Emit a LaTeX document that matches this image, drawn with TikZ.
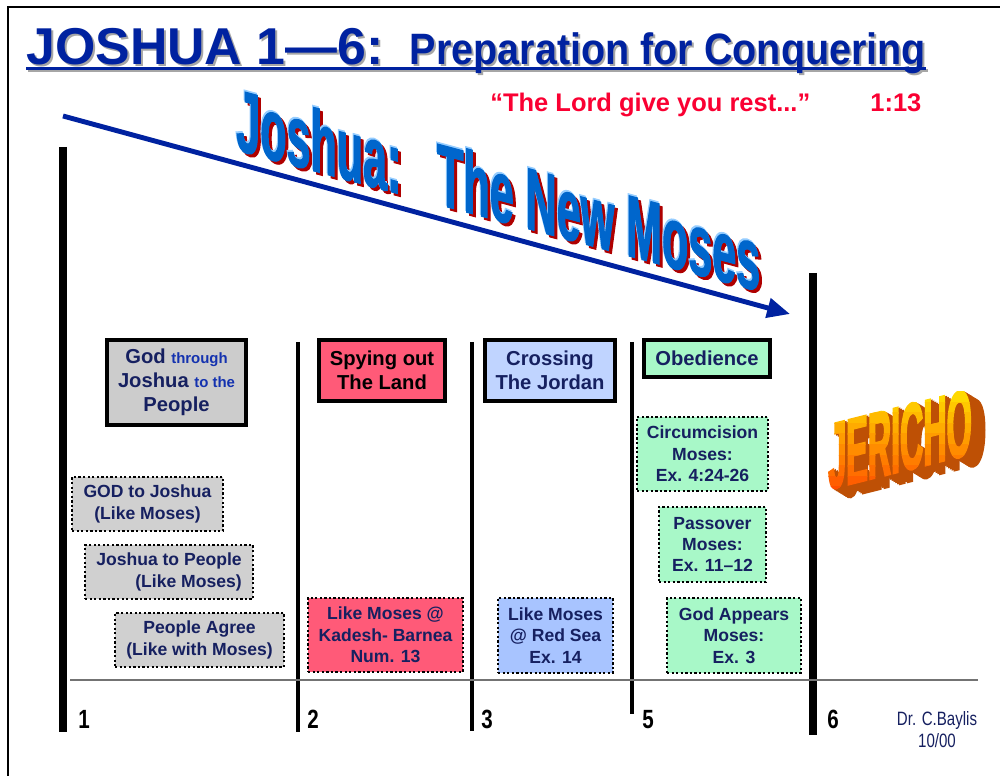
\documentclass[tikz,border=0pt]{standalone}
\usepackage{fontspec}
\setmainfont{Liberation Sans}
\newfontfamily\subfont[FakeStretch=0.9]{Liberation Sans}
\newfontfamily\narrowfont[FakeStretch=0.78]{Liberation Sans}
\newfontfamily\wordfont[FakeStretch=0.49,FakeBold=1.2]{Liberation Sans}
\newfontfamily\jerfont[FakeStretch=0.34,FakeBold=1.5]{Liberation Sans}
\usetikzlibrary{arrows.meta}
\definecolor{titleblue}{RGB}{0,34,160}
\definecolor{navy}{RGB}{22,32,96}
\definecolor{midblue}{RGB}{20,50,175}
\definecolor{quotered}{RGB}{250,0,50}
\definecolor{boxgray}{RGB}{204,204,204}
\definecolor{dotgray}{RGB}{208,208,208}
\definecolor{boxred}{RGB}{255,90,120}
\definecolor{boxblue}{RGB}{192,212,255}
\definecolor{seablue}{RGB}{168,196,255}
\definecolor{boxgreen}{RGB}{168,248,200}
\definecolor{wordblue}{RGB}{0,102,204}
\definecolor{wordedge}{RGB}{150,205,255}
\definecolor{wordred}{RGB}{175,0,0}
\definecolor{jerside}{RGB}{190,80,5}
\def\titletext{\bfseries{\fontsize{29.5}{30}\selectfont JOSHUA 1---6:}\hspace{15pt}{\subfont\fontsize{25}{26}\selectfont Preparation for Conquering}}
\def\themetext{\wordfont\bfseries\fontsize{50}{50}\selectfont Joshua:\ \ \ The New Moses}

\begin{document}
\begin{tikzpicture}[x=0.02cm,y=-0.02cm,
  hdbox/.style={draw=black,line width=2pt,align=center,inner sep=0pt,font=\bfseries\fontsize{11.5}{13.7}\selectfont},
  dotbox/.style={draw=black,line width=1.3pt,dash pattern=on 1.3pt off 1.3pt,align=center,inner sep=0pt,text=navy,font=\bfseries\fontsize{10}{12.2}\selectfont},
  bar/.style={line width=2.8pt},
  numlbl/.style={anchor=base west,inner sep=0pt,font=\narrowfont\bfseries\fontsize{15}{15}\selectfont},
  theme/.style={anchor=base west,inner sep=0pt,yslant=-0.27,transform shape},
  jer/.style={anchor=base west,inner sep=0pt,yslant=0.25,transform shape,font=\jerfont\bfseries\fontsize{54}{54}\selectfont}]
\useasboundingbox (0,0) rectangle (1000,776);
%%%%% START %%%%%
% frame
\draw[line width=1.2pt] (8,776) -- (8,7) -- (1000,7);

% title
\node[anchor=base west,inner sep=0pt,text=black!35] (titleShadow) at (28,67) {\titletext};
\draw[black!35,line width=1.6pt] ([yshift=-2.2pt]titleShadow.base west) -- ([yshift=-2.2pt]titleShadow.base east);
\node[anchor=base west,inner sep=0pt,text=titleblue] (title) at (26,65) {\titletext};
\draw[titleblue,line width=1.6pt] ([yshift=-2.2pt]title.base west) -- ([yshift=-2.2pt]title.base east);

\node[anchor=base west,inner sep=0pt,text=quotered,font=\bfseries\fontsize{14.5}{15}\selectfont] (quote) at (490,112) {``The Lord give you rest...''};
\node[anchor=base west,inner sep=0pt,text=quotered,font=\bfseries\fontsize{14.5}{15}\selectfont] (verse) at (870,112) {1:13};

% arrow and word art
\coordinate (arrS) at (63,116);
\coordinate (arrE) at (790,314);
\draw[titleblue,line width=2.8pt,-{Triangle[length=13pt,width=11pt]}] (arrS) -- (arrE);

\node[theme,text=wordred] (themeShadow) at (239,153) {\themetext};
\node[theme,text=wordedge] (themeEdge) at (235,148) {\themetext};
\node[theme,text=wordblue] (theme) at (236,150) {\themetext};

% bars
\draw[line width=4pt] (63,147) -- (63,732);
\draw[bar] (298,342) -- (298,732);
\draw[bar] (472,342) -- (472,731);
\draw[bar] (632,342) -- (632,714);
\draw[line width=4pt] (813,273) -- (813,735);
\draw[black!55,line width=0.9pt] (70,680) -- (978,680);

% headers
\node[hdbox,fill=boxgray,text=navy,minimum width=2.78cm,minimum height=1.7cm] (hdGod) at (176.5,382.5)
  {God {\color{midblue}\fontsize{8.5}{10}\selectfont through}\\Joshua {\color{midblue}\fontsize{8.5}{10}\selectfont to the}\\People};
\node[hdbox,fill=boxred,text=black,minimum width=2.52cm,minimum height=1.22cm] (hdSpy) at (382,370.5) {Spying out\\The Land};
\node[hdbox,fill=boxblue,text=navy,minimum width=2.6cm,minimum height=1.22cm] (hdCross) at (550,370.5) {Crossing\\The Jordan};
\node[hdbox,fill=boxgreen,text=navy,minimum width=2.52cm,minimum height=0.74cm] (hdObey) at (707,358.5) {Obedience};

% column 1
\node[dotbox,fill=dotgray,minimum width=3.02cm,minimum height=1.08cm] (bxGodJos) at (147.5,504) {GOD to Joshua\\(Like Moses)};
\node[dotbox,fill=dotgray,minimum width=3.36cm,minimum height=1.08cm,align=right] (bxJosPeo) at (169,572) {Joshua to People\\(Like Moses)\hspace{5pt}};
\node[dotbox,fill=dotgray,minimum width=3.38cm,minimum height=1.08cm] (bxAgree) at (199.5,640) {People Agree\\(Like with Moses)};

% columns 2 and 3
\node[dotbox,fill=boxred,minimum width=3.1cm,minimum height=1.48cm] (bxKadesh) at (385.5,635) {Like Moses @\\Kadesh- Barnea\\Num. 13};
\node[dotbox,fill=seablue,minimum width=2.3cm,minimum height=1.5cm] (bxRedSea) at (555.5,635.5) {Like Moses\\@ Red Sea\\Ex. 14};

% column 5
\node[dotbox,fill=boxgreen,minimum width=2.62cm,minimum height=1.48cm] (bxCirc) at (702.5,454) {Circumcision\\Moses:\\Ex. 4:24-26};
\node[dotbox,fill=boxgreen,minimum width=2.14cm,minimum height=1.5cm] (bxPass) at (712.5,544.5) {Passover\\Moses:\\Ex. 11--12};
\node[dotbox,fill=boxgreen,minimum width=2.68cm,minimum height=1.5cm] (bxAppear) at (734,635.5) {God Appears\\Moses:\\Ex. 3};

% jericho
\foreach \i in {8,...,1}
  \node[jer,text=jerside] (jerSide\i) at ({828+\i*1.8},{490+\i*1.1}) {JERICHO};
\foreach \k in {0,...,9}{
  \pgfmathsetmacro\mix{15+\k*6}
  \begin{scope}
    \clip (800,{392+\k*10.5}) rectangle (1000,{403+\k*10.5});
    \node[jer,text={red!\mix!yellow}] (jerFront\k) at (828,490) {JERICHO};
  \end{scope}
}

% numbers
\node[numlbl] (lbl1) at (78,728) {1};
\node[numlbl] (lbl2) at (307,728) {2};
\node[numlbl] (lbl3) at (481,728) {3};
\node[numlbl] (lbl5) at (642,728) {5};
\node[numlbl] (lbl6) at (827,728) {6};

\node[align=center,inner sep=0pt,text=navy,font=\narrowfont\fontsize{11}{12.5}\selectfont] (credit) at (937,730) {Dr. C.Baylis\\10/00};
%%%%% END %%%%%
\end{tikzpicture}
\end{document}
